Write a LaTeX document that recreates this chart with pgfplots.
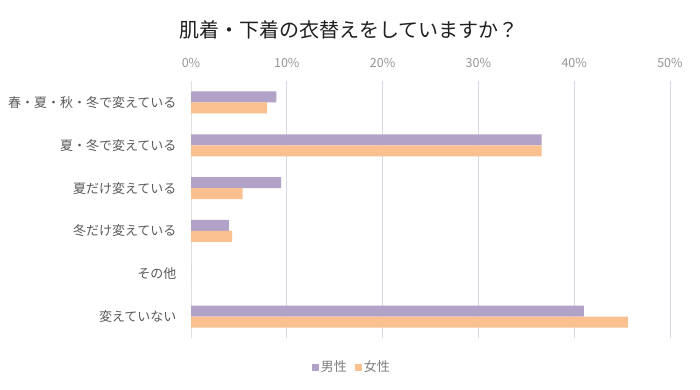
\documentclass[border=0pt]{standalone}
\usepackage{fontspec}
\setmainfont{Noto Sans CJK JP}
\usepackage{pgfplots}
\pgfplotsset{compat=1.18}
\definecolor{male}{HTML}{B3A2C7}
\definecolor{female}{HTML}{FAC090}
\definecolor{txt}{HTML}{595959}
\definecolor{tick}{HTML}{8C8C8C}
\definecolor{gridc}{HTML}{D3D9E6}
\begin{document}
\begin{tikzpicture}[x=1pt,y=1pt]
\path[use as bounding box] (0,0) rectangle (700,389);
\node[font=\fontsize{20}{22}\selectfont, text=black!88] at (349,359) {肌着・下着の衣替えをしていますか？};
\begin{axis}[at={(191pt,51pt)}, anchor=south west, scale only axis,
  width=479pt, height=257pt,
  xbar, bar width=11pt,
  /pgf/number format/assume math mode=true,
  xmin=0, xmax=50, ymin=-0.5, ymax=5.5,
  xtick={10,20,30,40,50}, xticklabel pos=upper,
  xticklabel={\pgfmathprintnumber{\tick}\%},
  extra x ticks={0}, extra x tick labels={0\%},
  extra x tick style={grid style={color=black!12, line width=1pt}},
  xticklabel style={font=\fontsize{12.5}{14}\selectfont, text=black!42, yshift=10pt},
  ytick={0,1,2,3,4,5},
  yticklabels={変えていない,その他,冬だけ変えている,夏だけ変えている,夏・冬で変えている,春・夏・秋・冬で変えている},
  yticklabel style={font=\fontsize{13}{15}\selectfont, text=txt, xshift=-11pt},
  major tick length=0pt,
  xmajorgrids, grid style={color=gridc, line width=0.8pt},
  axis line style={draw=none},
  legend style={at={(0.336,-0.113)}, anchor=center, legend columns=2, draw=none,
    font=\fontsize{13}{15}\selectfont, text=black!50,
    /tikz/every even column/.append style={column sep=6pt}},
  legend image code/.code={\fill[#1] (0pt,-3.5pt) rectangle (7pt,3.5pt);},
]
\addplot[fill=male, draw=none, bar shift=5.5pt] coordinates {(8.9,5) (36.6,4) (9.4,3) (3.95,2) (0,1) (41.0,0)};
\addplot[fill=female, draw=none, bar shift=-5.5pt] coordinates {(7.95,5) (36.6,4) (5.4,3) (4.3,2) (0,1) (45.6,0)};
\legend{男性,女性}
\end{axis}
\end{tikzpicture}
\end{document}
